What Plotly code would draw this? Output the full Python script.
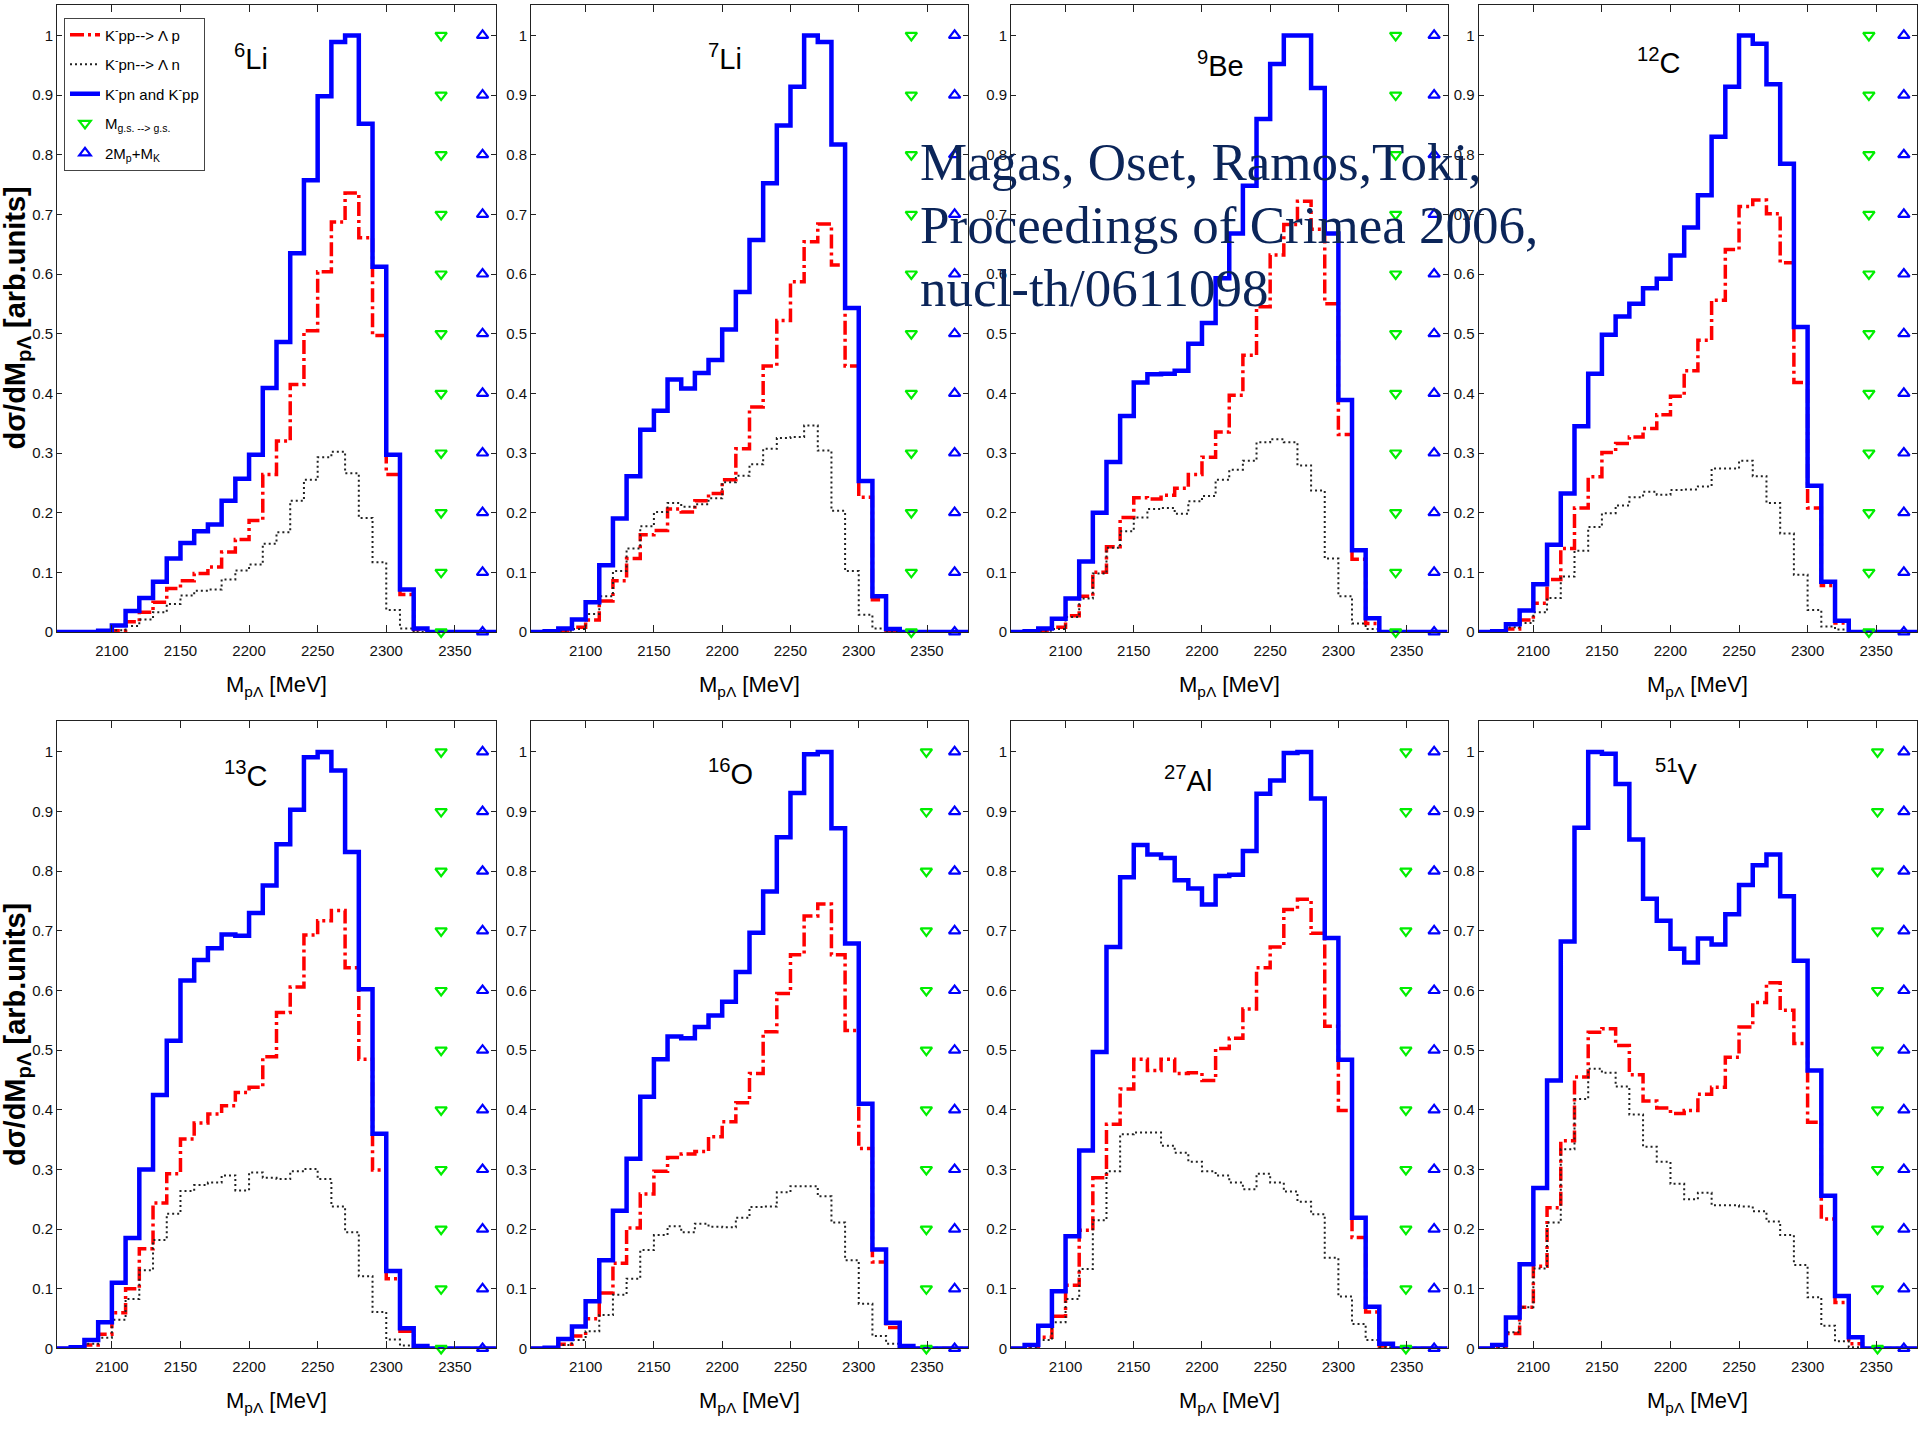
import plotly.graph_objects as go

# ---------------- data ----------------
bin_edges = [2060, 2070, 2080, 2090, 2100, 2110, 2120, 2130, 2140, 2150, 2160,
             2170, 2180, 2190, 2200, 2210, 2220, 2230, 2240, 2250, 2260, 2270,
             2280, 2290, 2300, 2310, 2320, 2330, 2340, 2350, 2360, 2370, 2380]

nuclei = ["<sup>6</sup>Li", "<sup>7</sup>Li", "<sup>9</sup>Be", "<sup>12</sup>C",
          "<sup>13</sup>C", "<sup>16</sup>O", "<sup>27</sup>Al", "<sup>51</sup>V"]

li6_pp = [0, 0, 0, 0, 0.002, 0.017, 0.033, 0.050, 0.073, 0.086, 0.098, 0.109, 0.134, 0.155, 0.187, 0.264,
          0.320, 0.415, 0.505, 0.604, 0.687, 0.736, 0.661, 0.497, 0.264, 0.063, 0.004, 0, 0, 0, 0, 0]
li6_pn = [0, 0, 0, 0, 0.003, 0.010, 0.021, 0.033, 0.047, 0.061, 0.069, 0.071, 0.088, 0.103, 0.113, 0.148,
          0.167, 0.220, 0.255, 0.293, 0.302, 0.266, 0.191, 0.117, 0.037, 0.006, 0, 0, 0, 0, 0, 0]
li6_tot = [0, 0, 0, 0.002, 0.011, 0.035, 0.057, 0.084, 0.123, 0.149, 0.169, 0.180, 0.220, 0.257, 0.297, 0.409,
           0.486, 0.635, 0.757, 0.898, 0.989, 1.0, 0.852, 0.612, 0.297, 0.071, 0.006, 0, 0, 0, 0, 0]

li7_pp = [0, 0, 0.001, 0.008, 0.020, 0.052, 0.086, 0.123, 0.163, 0.170, 0.206, 0.201, 0.220, 0.232, 0.255, 0.307,
          0.377, 0.446, 0.522, 0.587, 0.654, 0.684, 0.615, 0.446, 0.226, 0.054, 0.003, 0, 0, 0, 0, 0]
li7_pn = [0, 0, 0.002, 0.005, 0.030, 0.060, 0.102, 0.140, 0.177, 0.201, 0.216, 0.210, 0.214, 0.224, 0.251, 0.262,
          0.281, 0.307, 0.325, 0.327, 0.346, 0.304, 0.203, 0.102, 0.029, 0.006, 0, 0, 0, 0, 0, 0]
li7_tot = [0, 0.001, 0.006, 0.021, 0.050, 0.112, 0.190, 0.261, 0.339, 0.371, 0.423, 0.408, 0.434, 0.456, 0.507, 0.570,
           0.657, 0.752, 0.849, 0.914, 1.0, 0.989, 0.817, 0.543, 0.253, 0.060, 0.005, 0, 0, 0, 0, 0]

be9_pp = [0, 0, 0.002, 0.008, 0.027, 0.060, 0.100, 0.143, 0.192, 0.225, 0.223, 0.229, 0.241, 0.264, 0.293, 0.335,
          0.397, 0.464, 0.545, 0.632, 0.683, 0.722, 0.675, 0.550, 0.331, 0.122, 0.014, 0, 0, 0, 0, 0]
be9_pn = [0, 0, 0.002, 0.005, 0.025, 0.056, 0.098, 0.141, 0.169, 0.192, 0.206, 0.208, 0.198, 0.219, 0.228, 0.255,
          0.272, 0.287, 0.318, 0.323, 0.318, 0.279, 0.237, 0.123, 0.060, 0.014, 0.005, 0, 0, 0, 0, 0]
be9_tot = [0, 0.001, 0.006, 0.022, 0.056, 0.118, 0.200, 0.285, 0.362, 0.418, 0.432, 0.433, 0.438, 0.483, 0.518, 0.593,
           0.668, 0.748, 0.860, 0.952, 1.0, 1.0, 0.912, 0.668, 0.389, 0.137, 0.023, 0, 0, 0, 0, 0]

c12_pp = [0, 0, 0.005, 0.020, 0.048, 0.088, 0.140, 0.208, 0.260, 0.301, 0.316, 0.327, 0.341, 0.364, 0.395, 0.438,
          0.489, 0.556, 0.641, 0.713, 0.724, 0.701, 0.619, 0.418, 0.208, 0.078, 0.015, 0, 0, 0, 0, 0]
c12_pn = [0, 0, 0.008, 0.015, 0.033, 0.057, 0.093, 0.136, 0.176, 0.199, 0.212, 0.226, 0.235, 0.230, 0.238, 0.239,
          0.244, 0.274, 0.274, 0.287, 0.261, 0.216, 0.165, 0.096, 0.037, 0.009, 0.004, 0, 0, 0, 0, 0]
c12_tot = [0, 0.001, 0.013, 0.036, 0.080, 0.146, 0.232, 0.345, 0.433, 0.498, 0.529, 0.550, 0.576, 0.592, 0.631, 0.678,
           0.732, 0.830, 0.914, 1.0, 0.986, 0.918, 0.785, 0.511, 0.245, 0.084, 0.019, 0, 0, 0, 0, 0]

c13_pp = [0, 0, 0.006, 0.024, 0.060, 0.100, 0.167, 0.244, 0.293, 0.351, 0.378, 0.393, 0.407, 0.429, 0.438, 0.489,
          0.563, 0.606, 0.693, 0.717, 0.734, 0.638, 0.485, 0.299, 0.117, 0.029, 0.002, 0, 0, 0, 0, 0]
c13_pn = [0, 0, 0.008, 0.018, 0.048, 0.083, 0.131, 0.182, 0.226, 0.264, 0.274, 0.278, 0.290, 0.265, 0.295, 0.286,
          0.284, 0.297, 0.301, 0.284, 0.238, 0.195, 0.121, 0.061, 0.015, 0.005, 0, 0, 0, 0, 0, 0]
c13_tot = [0, 0.002, 0.014, 0.044, 0.110, 0.185, 0.300, 0.425, 0.516, 0.617, 0.651, 0.671, 0.694, 0.692, 0.730, 0.776,
           0.845, 0.903, 0.991, 1.0, 0.969, 0.832, 0.602, 0.360, 0.130, 0.034, 0.004, 0, 0, 0, 0, 0]

o16_pp = [0, 0, 0.007, 0.021, 0.050, 0.093, 0.143, 0.202, 0.259, 0.297, 0.320, 0.326, 0.330, 0.355, 0.380, 0.412,
          0.461, 0.531, 0.595, 0.660, 0.725, 0.745, 0.660, 0.533, 0.335, 0.145, 0.035, 0.002, 0, 0, 0, 0]
o16_pn = [0, 0, 0.006, 0.014, 0.029, 0.056, 0.090, 0.117, 0.165, 0.190, 0.205, 0.195, 0.209, 0.204, 0.203, 0.219,
          0.237, 0.238, 0.262, 0.272, 0.272, 0.255, 0.211, 0.148, 0.075, 0.021, 0.008, 0.002, 0, 0, 0, 0]
o16_tot = [0, 0.001, 0.016, 0.037, 0.079, 0.148, 0.231, 0.318, 0.422, 0.485, 0.523, 0.520, 0.539, 0.558, 0.581, 0.631,
           0.697, 0.766, 0.857, 0.931, 0.996, 1.0, 0.872, 0.679, 0.410, 0.166, 0.043, 0.004, 0, 0, 0, 0]

al27_pp = [0, 0.001, 0.019, 0.054, 0.106, 0.198, 0.286, 0.376, 0.435, 0.485, 0.466, 0.485, 0.461, 0.462, 0.449, 0.503,
           0.520, 0.569, 0.638, 0.673, 0.736, 0.753, 0.696, 0.540, 0.399, 0.186, 0.061, 0.004, 0, 0, 0, 0]
al27_pn = [0, 0.002, 0.014, 0.044, 0.083, 0.133, 0.215, 0.297, 0.359, 0.362, 0.362, 0.340, 0.328, 0.313, 0.297, 0.290,
           0.278, 0.267, 0.293, 0.278, 0.263, 0.246, 0.225, 0.152, 0.087, 0.041, 0.014, 0.002, 0, 0, 0, 0]
al27_tot = [0, 0.006, 0.038, 0.096, 0.188, 0.332, 0.497, 0.673, 0.790, 0.844, 0.828, 0.822, 0.785, 0.771, 0.744, 0.792,
            0.794, 0.834, 0.930, 0.952, 0.998, 1.0, 0.922, 0.688, 0.484, 0.219, 0.070, 0.008, 0, 0, 0, 0]

v51_pp = [0, 0.001, 0.025, 0.069, 0.138, 0.236, 0.348, 0.455, 0.530, 0.536, 0.508, 0.459, 0.415, 0.403, 0.394, 0.399,
          0.426, 0.438, 0.488, 0.539, 0.580, 0.613, 0.567, 0.511, 0.379, 0.217, 0.077, 0.008, 0, 0, 0, 0]
v51_pn = [0, 0.001, 0.027, 0.069, 0.134, 0.211, 0.334, 0.418, 0.469, 0.462, 0.439, 0.392, 0.338, 0.313, 0.276, 0.250,
          0.261, 0.240, 0.240, 0.238, 0.230, 0.213, 0.190, 0.140, 0.086, 0.038, 0.012, 0.002, 0, 0, 0, 0]
v51_tot = [0, 0.006, 0.052, 0.141, 0.269, 0.449, 0.682, 0.873, 1.0, 0.997, 0.946, 0.853, 0.754, 0.717, 0.670, 0.647,
           0.687, 0.677, 0.728, 0.777, 0.810, 0.828, 0.758, 0.650, 0.466, 0.256, 0.088, 0.019, 0, 0, 0, 0]

pp_series = [li6_pp, li7_pp, be9_pp, c12_pp, c13_pp, o16_pp, al27_pp, v51_pp]
pn_series = [li6_pn, li7_pn, be9_pn, c12_pn, c13_pn, o16_pn, al27_pn, v51_pn]
tot_series = [li6_tot, li7_tot, be9_tot, c12_tot, c13_tot, o16_tot, al27_tot, v51_tot]

# threshold masses [MeV]
gs_to_gs_mass = [2340, 2338.5, 2342, 2344.7, 2340, 2349.5, 2349.5, 2351]
two_mp_plus_mk = 2370.2
marker_levels = [0, 0.1, 0.2, 0.3, 0.4, 0.5, 0.6, 0.7, 0.8, 0.9, 1.0]

x_ticks = [2100, 2150, 2200, 2250, 2300, 2350]
y_ticks = [0, 0.1, 0.2, 0.3, 0.4, 0.5, 0.6, 0.7, 0.8, 0.9, 1.0]
y_tick_labels = ["0", "0.1", "0.2", "0.3", "0.4", "0.5", "0.6", "0.7", "0.8", "0.9", "1"]

legend_names = ["K<sup>-</sup>pp--> \u039b p", "K<sup>-</sup>pn--> \u039b n",
                "K<sup>-</sup>pn and K<sup>-</sup>pp", "M<sub>g.s. --> g.s.</sub>",
                "2M<sub>p</sub>+M<sub>K</sub>"]

# ---------------- layout geometry ----------------
W, H = 1920, 1440
col_px = [(57, 496), (531, 968), (1011, 1447.5), (1478.5, 1917.3)]
row_px = [(5, 635.5), (725.5, 1356)]
SANS = "Liberation Sans, Arial, sans-serif"

fig = go.Figure()
annotations = []

title_pos = [(251, 57), (725, 57), (1220, 64), (1659, 61),
             (246, 778), (730, 776), (1188, 783), (1676, 776)]

for i in range(8):
    r, c = divmod(i, 4)
    n = i + 1
    xa = "x" if n == 1 else f"x{n}"
    ya = "y" if n == 1 else f"y{n}"
    show = (i == 0)
    fig.add_trace(go.Scatter(x=bin_edges, y=pp_series[i] + [pp_series[i][-1]], mode="lines",
                             line=dict(color="#ff0000", width=3.5, dash="14px,4px,3px,4px", shape="hv"),
                             name=legend_names[0], legendgroup="g1", showlegend=show,
                             xaxis=xa, yaxis=ya))
    fig.add_trace(go.Scatter(x=bin_edges, y=pn_series[i] + [pn_series[i][-1]], mode="lines",
                             line=dict(color="#222222", width=2, dash="2px,3px", shape="hv"),
                             name=legend_names[1], legendgroup="g2", showlegend=show,
                             xaxis=xa, yaxis=ya))
    fig.add_trace(go.Scatter(x=bin_edges, y=tot_series[i] + [tot_series[i][-1]], mode="lines",
                             line=dict(color="#0000ff", width=4.5, shape="hv"),
                             name=legend_names[2], legendgroup="g3", showlegend=show,
                             xaxis=xa, yaxis=ya))
    fig.add_trace(go.Scatter(x=[gs_to_gs_mass[i]] * len(marker_levels), y=marker_levels, mode="markers",
                             marker=dict(symbol="triangle-down-open", size=10, color="#00ee00",
                                         line=dict(width=2.2, color="#00ee00")),
                             cliponaxis=False,
                             name=legend_names[3], legendgroup="g4", showlegend=show,
                             xaxis=xa, yaxis=ya))
    fig.add_trace(go.Scatter(x=[two_mp_plus_mk] * len(marker_levels), y=marker_levels, mode="markers",
                             marker=dict(symbol="triangle-up-open", size=10, color="#0000ff",
                                         line=dict(width=2.2, color="#0000ff")),
                             cliponaxis=False,
                             name=legend_names[4], legendgroup="g5", showlegend=show,
                             xaxis=xa, yaxis=ya))

    x0, x1 = col_px[c]
    y0, y1 = row_px[r]
    sfx = "" if n == 1 else str(n)
    fig.layout["xaxis" + sfx] = dict(
        domain=[x0 / W, x1 / W], anchor=ya, range=[2060, 2380],
        tickvals=x_ticks, ticks="inside", ticklen=7, tickcolor="#222",
        showline=True, linecolor="#222", linewidth=1, mirror="ticks",
        showgrid=False, zeroline=False, tickfont=dict(family=SANS, size=15, color="#111"),
        ticklabelstandoff=5)
    fig.layout["yaxis" + sfx] = dict(
        domain=[1 - y1 / H, 1 - y0 / H], anchor=xa, range=[0, 1.051],
        tickvals=y_ticks, ticktext=y_tick_labels, ticks="inside", ticklen=5, tickcolor="#222",
        showline=True, linecolor="#222", linewidth=1, mirror="ticks",
        showgrid=False, zeroline=False, tickfont=dict(family=SANS, size=15, color="#111"))

    # panel title
    tx, ty = title_pos[i]
    annotations.append(dict(text=nuclei[i], x=tx / W, y=1 - ty / H, xref="paper", yref="paper",
                            xanchor="center", yanchor="middle", showarrow=False,
                            font=dict(family=SANS, size=29, color="black")))
    # x axis title
    annotations.append(dict(text="M<sub>p\u039b</sub> [MeV]", x=(x0 + x1) / 2 / W,
                            y=1 - (y1 + 54) / H, xref="paper", yref="paper",
                            xanchor="center", yanchor="middle", showarrow=False,
                            font=dict(family=SANS, size=22, color="black")))

# y-axis titles
for (y0, y1) in row_px:
    annotations.append(dict(text="<b>d\u03c3/dM<sub>p\u039b</sub> [arb.units]</b>", x=17 / W,
                            y=1 - (y0 + y1) / 2 / H, xref="paper", yref="paper",
                            xanchor="center", yanchor="middle", textangle=-90, showarrow=False,
                            font=dict(family=SANS, size=29, color="black")))

# watermark text
wm_lines = ["Magas, Oset, Ramos,Toki,", "Proceedings of Crimea 2006,", "nucl-th/0611098"]
wm_mid_y = [163, 226, 290]
for txt, my in zip(wm_lines, wm_mid_y):
    annotations.append(dict(text=txt, x=918 / W, y=1 - my / H, xref="paper", yref="paper",
                            xanchor="left", yanchor="middle", showarrow=False,
                            font=dict(family="Liberation Serif, Times New Roman, serif", size=53,
                                      color="#0b2559")))

fig.update_layout(
    width=W, height=H, margin=dict(l=0, r=0, t=0, b=0),
    paper_bgcolor="white", plot_bgcolor="white",
    annotations=annotations,
    showlegend=True,
    legend=dict(x=64 / W, y=1 - 17.7 / H, xanchor="left", yanchor="top",
                bordercolor="#444", borderwidth=1, bgcolor="white",
                font=dict(family=SANS, size=15, color="black"),
                itemwidth=30, tracegroupgap=7, traceorder="grouped"),
)

fig.write_html("out.html")
